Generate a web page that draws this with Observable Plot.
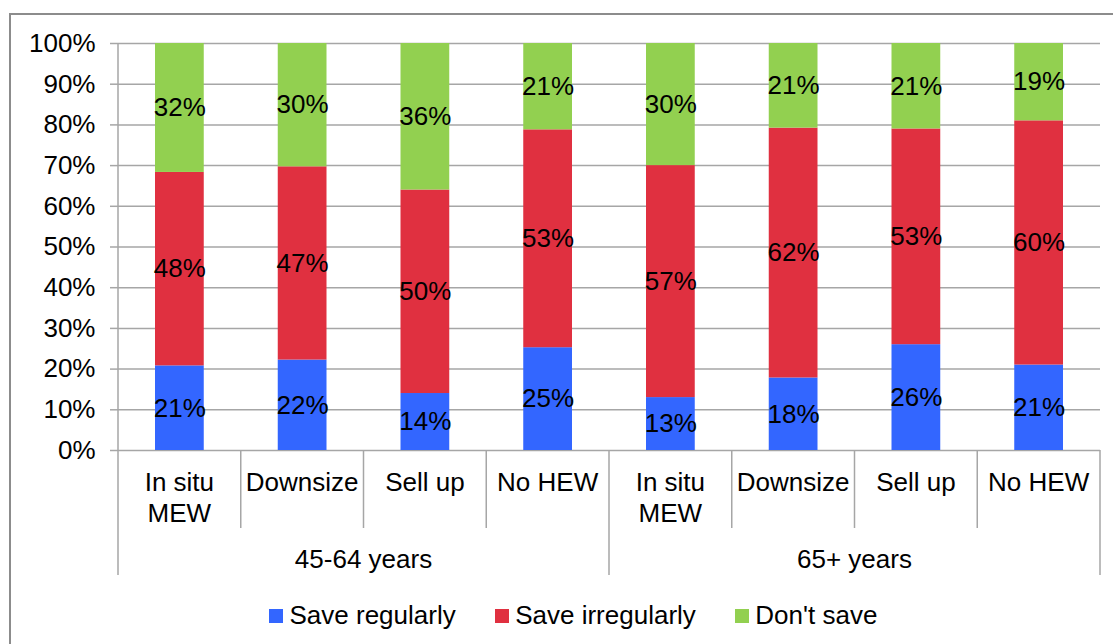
<!DOCTYPE html>
<html>
<head>
<meta charset="utf-8">
<script src="https://cdn.jsdelivr.net/npm/d3@7"></script>
<script src="https://cdn.jsdelivr.net/npm/@observablehq/plot@0.6"></script>
<style>
  body { margin: 0; background: #fff; font-family: "Liberation Sans", Arial, sans-serif; }
  #wrap { position: relative; width: 1113px; height: 644px; overflow: hidden; background: #fff; }
  #frame { position: absolute; left: 9px; top: 13px; width: 1200px; height: 700px; border: 2px solid #8c8c8c; box-sizing: border-box; }
  #chart { position: absolute; left: 0; top: 0; }
  #legend { position: absolute; left: 269px; top: 600px; display: flex; align-items: center; font-size: 26px; color: #000; white-space: nowrap; }
  #legend .item { display: flex; align-items: center; margin-right: 39px; }
  #legend .sw { width: 14px; height: 14px; margin-right: 6.5px; }
</style>
</head>
<body>
<div id="wrap">
  <div id="frame"></div>
  <div id="chart"></div>
  <div id="legend"></div>
</div>
<script>
// Age groups and home-equity-withdrawal categories within each group
const groups = ["45-64 years", "65+ years"];
const categories = ["In situ\nMEW", "Downsize", "Sell up", "No HEW"];

// Saving behaviour series (percent of respondents), one value per bar
const series = ["Save regularly", "Save irregularly", "Don't save"];
const colors = ["#3366ff", "#e03040", "#92d050"];
const saveRegularly   = [21, 22, 14, 25, 13, 18, 26, 21];
const saveIrregularly = [48, 47, 50, 53, 57, 62, 53, 60];
const dontSave        = [32, 30, 36, 21, 30, 21, 21, 19];

// Y-axis tick values (shares of the 100% stack)
const yTicks = [0, 0.1, 0.2, 0.3, 0.4, 0.5, 0.6, 0.7, 0.8, 0.9, 1];

// One key per bar: group index + category
const bars = groups.flatMap((g, gi) => categories.map((c, ci) => ({key: `${gi}|${c}`, group: g, category: c})));
const keys = bars.map(b => b.key);
const seriesValues = [saveRegularly, saveIrregularly, dontSave];
const rows = [];
bars.forEach((b, i) => {
  series.forEach((s, si) => rows.push({key: b.key, series: s, value: seriesValues[si][i]}));
});

const FONT = "'Liberation Sans', Arial, sans-serif";
const GRID = "#a6a6a6";

// Two-level category axis below the bars: category cells and group cells
function categoryAxis(index, scales, values, dims) {
  const x = scales.x, y = scales.y;
  const step = (dims.width - dims.marginLeft - dims.marginRight) / keys.length;
  const y0 = y(0), yTop = y(1);
  const g = d3.create("svg:g")
    .attr("font-family", FONT).attr("font-size", 26)
    .attr("text-anchor", "middle").attr("fill", "black");
  const lines = g.append("g").attr("stroke", GRID).attr("stroke-width", 1.5);
  keys.forEach((k, i) => {
    const left = x(k);
    const groupEdge = i % categories.length === 0;
    lines.append("line")
      .attr("x1", left).attr("x2", left)
      .attr("y1", i === 0 ? yTop : y0)
      .attr("y2", y0 + (groupEdge ? 125 : 78));
    const b = bars[i];
    b.category.split("\n").forEach((t, li) => {
      g.append("text").attr("x", left + step / 2).attr("y", y0 + 41 + li * 30.5).text(t);
    });
  });
  const rightEdge = x(keys[keys.length - 1]) + step;
  lines.append("line").attr("x1", rightEdge).attr("x2", rightEdge).attr("y1", y0).attr("y2", y0 + 125);
  groups.forEach((grp, gi) => {
    const first = x(keys[gi * categories.length]);
    g.append("text").attr("x", first + step * categories.length / 2).attr("y", y0 + 118).text(grp);
  });
  return g.node();
}

const chart = Plot.plot({
  width: 1113,
  height: 590,
  marginLeft: 118,
  marginRight: 13,
  marginTop: 43,
  marginBottom: 140,
  style: {fontFamily: FONT, fontSize: "26px", background: "transparent", overflow: "visible", color: "black"},
  x: {type: "band", domain: keys, padding: 0, round: false, axis: null},
  y: {domain: [0, 1], label: null},
  color: {domain: series, range: colors},
  marks: [
    Plot.ruleY(yTicks, {stroke: GRID, strokeWidth: 1.5}),
    Plot.axisY(yTicks, {
      tickFormat: d3.format(".0%"), tickSize: 8, tickPadding: 15,
      stroke: GRID, strokeWidth: 1.5, fill: "black", fontSize: 26, label: null
    }),
    Plot.barY(rows, {x: "key", y: "value", fill: "series", offset: "normalize", insetLeft: 37, insetRight: 37}),
    Plot.text(rows, Plot.stackY({
      x: "key", y: "value", offset: "normalize",
      text: d => d.value + "%", fontSize: 26, fill: "black"
    })),
    categoryAxis
  ]
});
document.getElementById("chart").appendChild(chart);

// Legend below the chart
const legend = d3.select("#legend");
series.forEach((s, i) => {
  const item = legend.append("div").attr("class", "item");
  item.append("div").attr("class", "sw").style("background", colors[i]);
  item.append("span").text(s);
});
</script>
</body>
</html>
